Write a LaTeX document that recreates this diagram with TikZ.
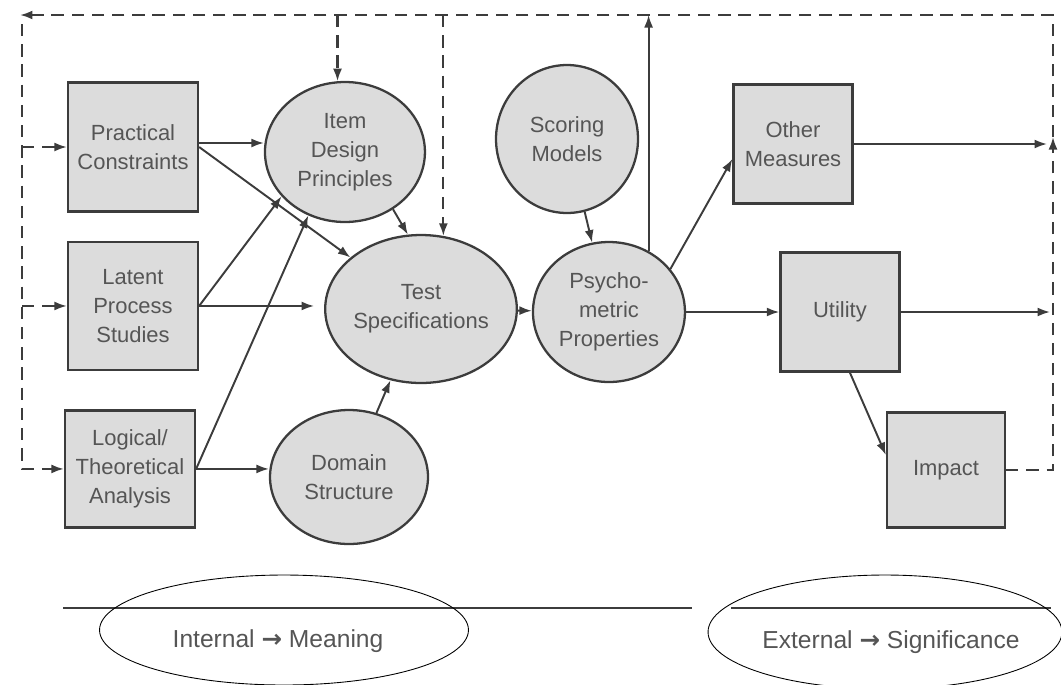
\documentclass[tikz,border=0pt]{standalone}
\usepackage{fontspec}
\setmainfont{Liberation Sans}
\newfontfamily\arrowfont{DejaVu Sans}
\usetikzlibrary{arrows.meta}
\usetikzlibrary{positioning}
\usetikzlibrary{shapes.geometric}
\definecolor{boxfill}{HTML}{DCDCDC}
\definecolor{boxline}{HTML}{3C3C3C}
\definecolor{boxtext}{HTML}{555555}
\tikzset{
    block/.style={
           rectangle,
           draw=boxline, line width=1.3pt,
           fill=boxfill,
           text=boxtext,
           align=center,
           inner sep=0pt,
           font=\fontsize{12.5}{16.5}\selectfont,
           },
    blob/.style={
           ellipse,
           draw=boxline, line width=1.3pt,
           fill=boxfill,
           text=boxtext,
           align=center,
           inner sep=0pt,
           font=\fontsize{12.5}{16.5}\selectfont,
           },
    link/.style={->, draw=boxline, line width=1.1pt},
    back/.style={draw=boxline, line width=1.2pt, dash pattern=on 7pt off 4.5pt},
    rule/.style={draw=boxline, line width=1.6pt},
    caption/.style={text=boxtext, font=\fontsize{14}{16}\selectfont},
    ring/.style={draw=black, line width=0.5pt},
}

\begin{document}
\begin{tikzpicture}[>={Latex[length=0.25cm,width=0.18cm]}, x=0.02cm, y=-0.02cm]

 % frame of the picture, 1 unit = 1 pixel of the original
 \useasboundingbox (0,0) rectangle (1061,684);

 % left column: the three sources
 \node[block, minimum width=2.6cm, minimum height=2.58cm] (PRACT) at (133,147)
  {Practical\\Constraints};
 \node[block,
  node distance=3.18cm,  % distance to PRACT
  below of=PRACT,
  minimum width=2.6cm, minimum height=2.56cm] (LATENT)
  {Latent\\Process\\Studies};
 \node[block,
  node distance=3.26cm,  % distance to LATENT
  below of=LATENT,
  xshift=-0.06cm,
  minimum width=2.6cm, minimum height=2.34cm] (LOGIC)
  {Logical/\\Theoretical\\Analysis};

 % middle: the internal part
 \node[blob,
  node distance=4.24cm,  % distance to PRACT
  right of=PRACT,
  yshift=-0.1cm,
  minimum width=3.2cm, minimum height=2.8cm] (ITEM)
  {Item\\Design\\Principles};
 \node[blob, minimum width=3.16cm, minimum height=2.96cm] (TEST) at (421,309)
  {Test\\Specifications};
 \node[blob, minimum width=3.16cm, minimum height=2.68cm] (DOMAIN) at (349,477)
  {Domain\\Structure};
 \node[blob,
  node distance=3.76cm,  % distance to TEST
  right of=TEST,
  yshift=-0.06cm,
  minimum width=3.04cm, minimum height=2.8cm] (PSYCH)
  {Psycho-\\metric\\Properties};
 \node[blob, minimum width=2.84cm, minimum height=2.96cm] (SCORE) at (567,139)
  {Scoring\\Models};

 % right: the external part
 \node[block, minimum width=2.38cm, minimum height=2.38cm] (OTHER) at (793,144)
  {Other\\Measures};
 \node[block,
  node distance=4.62cm,  % distance to PSYCH
  right of=PSYCH,
  minimum width=2.38cm, minimum height=2.38cm] (UTIL)
  {Utility};
 \node[block, minimum width=2.36cm, minimum height=2.3cm] (IMPACT) at (946,470)
  {Impact};

 % corners of the feedback loop
 \coordinate (topL) at (20,15);
 \coordinate (topR) at (1053,15);
 \coordinate (leftT) at (22,24);
 \coordinate (rightMid) at (1053,137);

 % solid paths
 \draw[link] ([yshift=0.08cm]PRACT.east) -- ([yshift=0.08cm]PRACT.east -| ITEM.west);
 \draw[link] (PRACT.east) -- (TEST);
 \draw[link] (LATENT.east) -- (ITEM.215);
 \draw[link, shorten >=0.2cm] (LATENT.east) -- (LATENT.east -| TEST.west);
 \draw[link] (LOGIC.east) -- (ITEM.240);
 \draw[link] (LOGIC.east) -- (LOGIC.east -| DOMAIN.west);
 \draw[link] (ITEM.310) -- (TEST.100);
 \draw[link] (DOMAIN) -- (TEST);
 \draw[link] (TEST) -- (PSYCH);
 \draw[link] (SCORE) -- (PSYCH);
 \draw[link] (PSYCH.35) -- ([yshift=-0.3cm]OTHER.west);
 \draw[link] (PSYCH.east) -- (UTIL.west);
 \draw[link] (PSYCH.57) -- (PSYCH.57 |- topR);
 \draw[link] ([xshift=0.2cm]UTIL.south) -- ([yshift=0.3cm]IMPACT.west);
 \draw[link, shorten >=0.12cm] (OTHER.east) -- (OTHER.east -| topR);
 \draw[link, shorten >=0.06cm] (UTIL.east) -- (UTIL.east -| topR);

 % dashed feedback loop
 \draw[back, ->] (IMPACT.east) -| (rightMid);
 \draw[back, ->] (rightMid) |- (topL);
 \draw[back, ->] (leftT) |- (LOGIC.west);
 \draw[back, ->] (leftT |- PRACT) -- (PRACT.west);
 \draw[back, ->] (leftT |- LATENT) -- (LATENT.west);
 \draw[back, ->] (ITEM.96 |- topR) -- (ITEM.96);
 \draw[back, ->] (TEST.73 |- topR) -- (TEST.73);

 % bottom labels
 \coordinate (ruleA) at (63,608);
 \coordinate (ruleB) at (692,608);
 \coordinate (ruleC) at (731,608);
 \coordinate (ruleD) at (1051,608);
 \draw[rule] (ruleA) -- (ruleB);
 \draw[rule] (ruleC) -- (ruleD);
 \node[caption] (INTERN) at (278,641) {Internal {\arrowfont\bfseries →} Meaning};
 \node[caption] (EXTERN) at (891,642) {External {\arrowfont\bfseries →} Significance};
 \draw[ring] (284,630) ellipse [x radius=3.69cm, y radius=1.1cm];
 \draw[ring] (885,632) ellipse [x radius=3.54cm, y radius=1.14cm];

\end{tikzpicture}
\end{document}
